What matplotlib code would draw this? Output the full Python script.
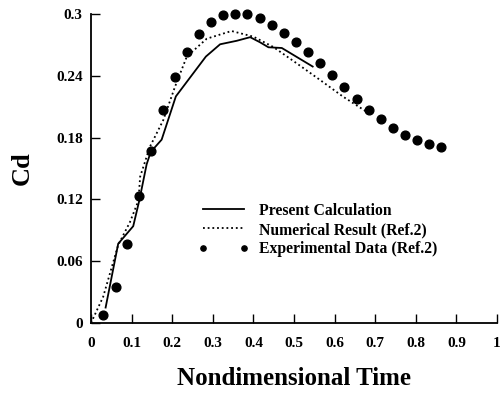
import matplotlib
matplotlib.use("Agg")
import matplotlib.pyplot as plt

# Present calculation (solid)
calc_t = [0.036, 0.067, 0.078, 0.104, 0.119, 0.137, 0.147, 0.174, 0.209, 0.252, 0.283,
          0.318, 0.359, 0.392, 0.416, 0.437, 0.470, 0.546]
calc_cd = [0.015, 0.077, 0.082, 0.094, 0.119, 0.154, 0.166, 0.178, 0.220, 0.2425, 0.2587,
           0.2706, 0.274, 0.2775, 0.2726, 0.2677, 0.267, 0.249]

# Numerical result Ref.2 (dotted)
num_t = [0.0, 0.030, 0.067, 0.096, 0.117, 0.121, 0.145, 0.178, 0.207, 0.236, 0.285,
         0.346, 0.40, 0.449, 0.507, 0.564, 0.621, 0.691]
num_cd = [0.0, 0.0255, 0.0757, 0.098, 0.119, 0.142, 0.171, 0.197, 0.2295, 0.2587, 0.276,
          0.2835, 0.278, 0.268, 0.252, 0.236, 0.2197, 0.202]

# Experimental data Ref.2 (dots)
exp_t = [0.030, 0.061, 0.089, 0.118, 0.147, 0.178, 0.208, 0.236, 0.266, 0.296, 0.326,
         0.355, 0.385, 0.416, 0.446, 0.475, 0.506, 0.535, 0.563, 0.594, 0.623, 0.654,
         0.684, 0.714, 0.745, 0.773, 0.804, 0.833, 0.863]
exp_cd = [0.0078, 0.035, 0.0767, 0.123, 0.167, 0.207, 0.2385, 0.263, 0.2806, 0.2925, 0.2987,
          0.300, 0.2997, 0.2958, 0.289, 0.282, 0.273, 0.263, 0.252, 0.241, 0.2288, 0.2175,
          0.207, 0.1978, 0.1896, 0.1828, 0.1777, 0.1738, 0.1712]

xticks = [0, 0.1, 0.2, 0.3, 0.4, 0.5, 0.6, 0.7, 0.8, 0.9, 1]
xticklabels = ["0", "0.1", "0.2", "0.3", "0.4", "0.5", "0.6", "0.7", "0.8", "0.9", "1"]
yticks = [0, 0.06, 0.12, 0.18, 0.24, 0.3]
yticklabels = ["0", "0.06", "0.12", "0.18", "0.24", "0.3"]

plt.rcParams['font.family'] = ['Liberation Serif', 'DejaVu Serif']
plt.rcParams['font.weight'] = 'bold'

fig = plt.figure(figsize=(5.04, 3.93), dpi=100)
ax = fig.add_axes([91/504, 1 - 323/393, 406/504, 309/393])

ax.plot(calc_t, calc_cd, color='black', lw=1.3, label='Present Calculation')
ax.plot(num_t, num_cd, color='black', lw=1.3, linestyle=(0, (1, 1.6)),
        label='Numerical Result (Ref.2)')
ax.plot(exp_t, exp_cd, linestyle='none', marker='o', color='black', markersize=6.3,
        clip_on=False, label='Experimental Data (Ref.2)')

ax.set_xlim(0, 1)
ax.set_ylim(0, 0.3)
ax.set_xticks(xticks)
ax.set_xticklabels(xticklabels)
ax.set_yticks(yticks)
ax.set_yticklabels(yticklabels)
ax.tick_params(direction='in', length=6.5, width=1.0, labelsize=11)
ax.tick_params(axis='y', pad=6)
ax.tick_params(axis='x', pad=10)
for lbl in ax.get_xticklabels() + ax.get_yticklabels():
    lbl.set_fontweight('bold')

ax.spines['top'].set_visible(False)
ax.spines['right'].set_visible(False)
ax.spines['left'].set_linewidth(1.3)
ax.spines['bottom'].set_linewidth(1.3)

ax.set_xlabel('Nondimensional Time', fontsize=18, fontweight='bold', labelpad=12)
ax.set_ylabel('Cd', fontsize=19, fontweight='bold', labelpad=16)

leg = ax.legend(loc='upper left', bbox_to_anchor=(0.264, 0.389), frameon=False,
                fontsize=11.3, numpoints=2, markerscale=0.6, handlelength=3.2,
                handletextpad=0.65, labelspacing=0.2, borderpad=0, borderaxespad=0)
for t in leg.get_texts():
    t.set_fontweight('bold')

fig.savefig('out.png', dpi=100)
